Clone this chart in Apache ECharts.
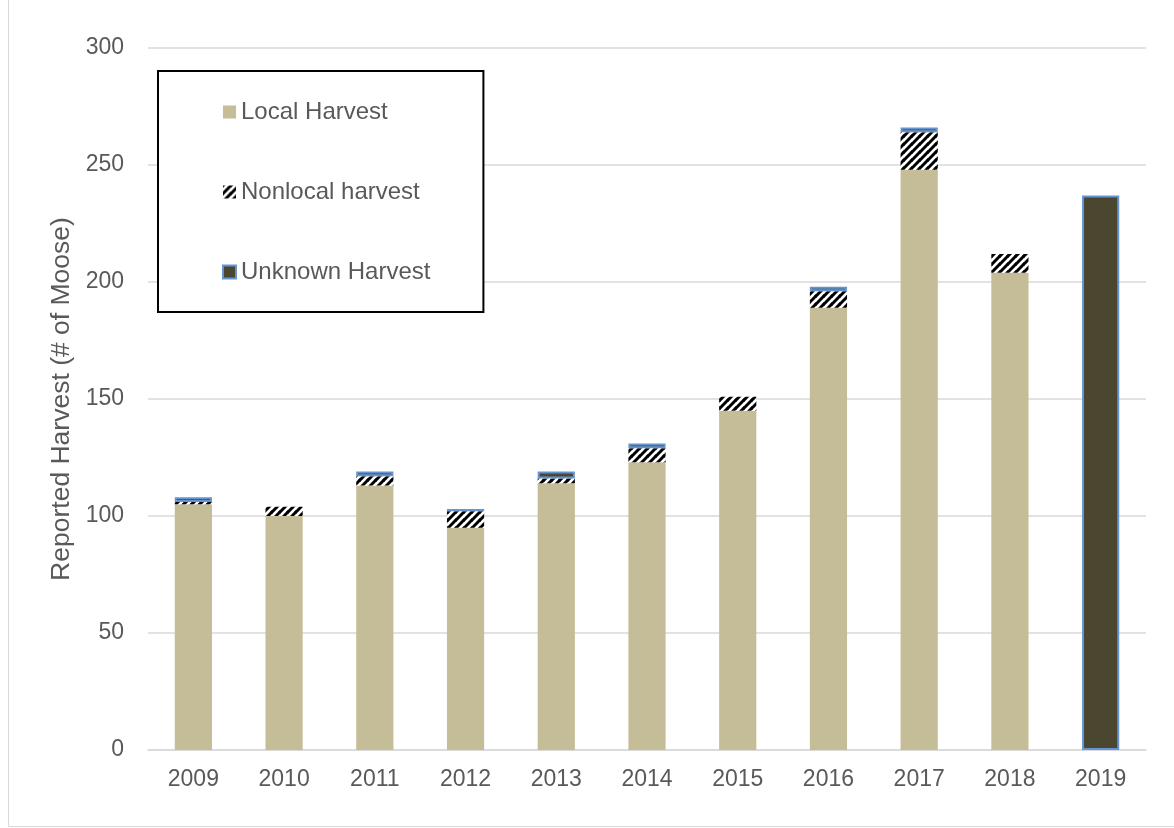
<!DOCTYPE html>
<html>
<head>
<meta charset="utf-8">
<script src="https://cdn.jsdelivr.net/npm/echarts@6/dist/echarts.min.js"></script>
<style>
  html, body { margin: 0; padding: 0; background: #fff; }
  #frame { position: absolute; left: 8px; top: -2px; width: 1170px; height: 827px; border: 1px solid #d9d9d9; }
  #chart { position: absolute; left: 0; top: 0; width: 1174px; height: 828px; }
</style>
</head>
<body>
<div id="frame"></div>
<div id="chart"></div>
<script>
const years = ['2009','2010','2011','2012','2013','2014','2015','2016','2017','2018','2019'];
const localHarvest    = [105, 100, 113, 95, 114, 123, 145, 189, 248, 204, null];
const nonlocalHarvest = [1, 4, 4, 7, 2, 6, 6, 7, 16, 8, null];
const unknownHarvest  = [2, null, 2, 1, 3, 2, null, 2, 2, null, 237];
const yTicks = { min: 0, max: 300, interval: 50 };

// diagonal stripe pattern for nonlocal harvest
const tile = document.createElement('canvas');
tile.width = 8; tile.height = 8;
const ctx = tile.getContext('2d');
ctx.fillStyle = '#ffffff';
ctx.fillRect(0, 0, 8, 8);
ctx.strokeStyle = '#000000';
ctx.lineWidth = 3;
[[-8, 8, 0, 0], [0, 8, 8, 0], [0, 16, 16, 0], [-4, 4, 4, -4], [4, 12, 12, 4]].forEach(l => {
  ctx.beginPath(); ctx.moveTo(l[0], l[1]); ctx.lineTo(l[2], l[3]); ctx.stroke();
});

const font = 'Liberation Sans, Arial, sans-serif';
const txt = '#595959';

const chart = echarts.init(document.getElementById('chart'), null, { renderer: 'canvas' });
chart.setOption({
  backgroundColor: 'transparent',
  animation: false,
  grid: { left: 148, right: 28, top: 48, bottom: 78 },
  legend: {
    orient: 'vertical',
    left: 158, top: 71,
    padding: [29, 53, 28, 64],
    itemGap: 56,
    itemWidth: 13, itemHeight: 13,
    borderColor: '#000', borderWidth: 2,
    backgroundColor: '#fff',
    icon: 'rect',
    textStyle: { fontFamily: font, fontSize: 24, color: txt, lineHeight: 24 },
    data: ['Local Harvest', 'Nonlocal harvest', 'Unknown Harvest']
  },
  xAxis: {
    type: 'category',
    data: years,
    axisLine: { lineStyle: { color: '#d9d9d9', width: 1.5 } },
    axisTick: { show: false },
    axisLabel: { fontFamily: font, fontSize: 23, color: txt, margin: 18 }
  },
  yAxis: {
    type: 'value',
    min: yTicks.min, max: yTicks.max, interval: yTicks.interval,
    name: 'Reported Harvest (# of Moose)',
    nameLocation: 'middle',
    nameGap: 73,
    nameTextStyle: { fontFamily: font, fontSize: 26.5, color: txt },
    axisLine: { show: false },
    axisTick: { show: false },
    splitLine: { lineStyle: { color: '#d9d9d9', width: 1.5 } },
    axisLabel: { fontFamily: font, fontSize: 23, color: txt, margin: 24 }
  },
  series: [
    {
      name: 'Local Harvest', type: 'bar', stack: 'total', barWidth: '41%',
      itemStyle: { color: '#C4BD97' },
      data: localHarvest
    },
    {
      name: 'Nonlocal harvest', type: 'bar', stack: 'total',
      itemStyle: { color: { image: tile, repeat: 'repeat' } },
      data: nonlocalHarvest
    },
    {
      name: 'Unknown Harvest', type: 'bar', stack: 'total',
      itemStyle: { color: '#4B4630', borderColor: '#6495D2', borderWidth: 2 },
      data: unknownHarvest
    }
  ]
});
</script>
</body>
</html>
